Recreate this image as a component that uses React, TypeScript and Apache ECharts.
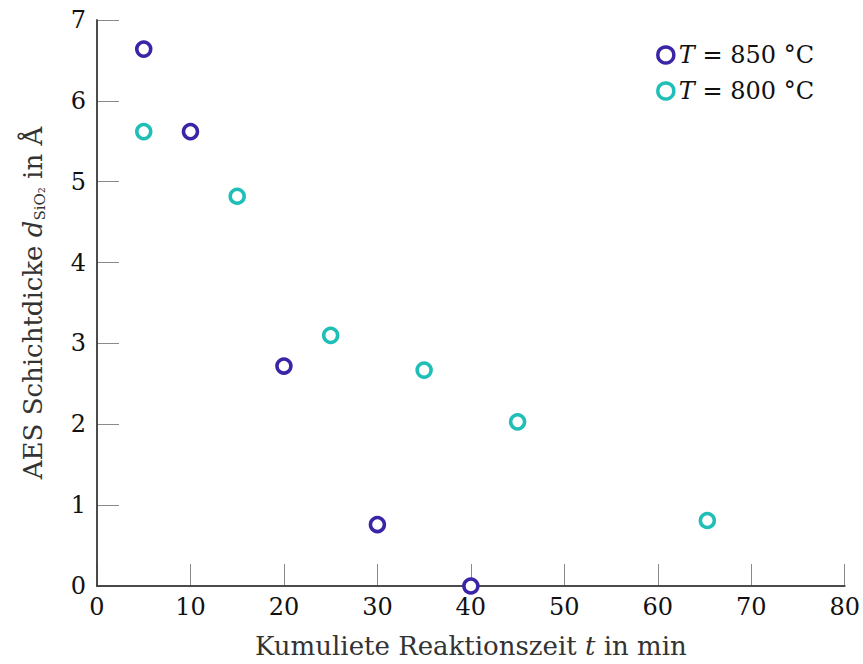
import React, { useEffect, useRef } from "react";
import * as echarts from "echarts";

const xTicks = [0, 10, 20, 30, 40, 50, 60, 70, 80];
const yTicks = [0, 1, 2, 3, 4, 5, 6, 7];

const t850 = [5, 10, 20, 30, 40];
const d850 = [6.64, 5.62, 2.72, 0.76, 0.0];

const t800 = [5, 15, 25, 35, 45, 65.3];
const d800 = [5.62, 4.82, 3.1, 2.67, 2.03, 0.81];

const seriesNames = ["T850", "T800"];
const colors = ["#3b24a6", "#1fbfb7"];

const FONT = "DejaVu Serif";
const TICK_LEN = 11;

const mkLine = () => ({ show: true, lineStyle: { color: "#404040", width: 1.5 } });
const mkTick = () => ({ show: true, inside: false, length: TICK_LEN, lineStyle: { color: "#8a8a8a", width: 1 } });

const xBase = { type: "value", min: 0, max: 80, interval: 10, splitLine: { show: false } };
const yBase = { type: "value", min: 0, max: 7, interval: 1, splitLine: { show: false } };

// tick-only axes, shifted into the plot so that their outward ticks point inward
const tickX = (position: string) => ({
  ...xBase,
  position,
  offset: -TICK_LEN,
  z: 0,
  axisLine: { show: false },
  axisTick: mkTick(),
  axisLabel: { show: false },
});
const tickY = (position: string) => ({
  ...yBase,
  position,
  offset: -TICK_LEN,
  z: 0,
  axisLine: { show: false },
  axisTick: mkTick(),
  axisLabel: { show: false },
});

export default function App() {
  const ref = useRef<HTMLDivElement>(null);
  useEffect(() => {
    if (!ref.current) return;
    const chart = echarts.init(ref.current, null, { renderer: "svg" });
    const legendRich = {
      i: { fontFamily: FONT, fontStyle: "italic", fontSize: 24, color: "#111" },
      n: { fontFamily: FONT, fontSize: 24, color: "#111" },
    };
    chart.setOption({
      animation: false,
      backgroundColor: "#ffffff",
      grid: { left: 97, top: 20, right: 17, bottom: 77, containLabel: false },
      legend: {
        show: true,
        top: 38,
        right: 44,
        orient: "vertical",
        itemGap: 12,
        itemWidth: 16,
        itemHeight: 16,
        icon: "circle",
        data: seriesNames.map((n, i) => ({
          name: n,
          itemStyle: { color: "#fff", borderColor: colors[i], borderWidth: 3.5, opacity: 1 },
        })),
        formatter: (name: string) =>
          name === "T850" ? "{i|T}{n|\u00a0= 850\u00a0°C}" : "{i|T}{n|\u00a0= 800\u00a0°C}",
        textStyle: { rich: legendRich },
      },
      xAxis: [
        {
          ...xBase,
          position: "bottom",
          z: 3,
          axisLine: mkLine(),
          axisTick: { show: false },
          axisLabel: {
            fontFamily: FONT,
            fontSize: 24,
            color: "#111",
            margin: 9,
            formatter: (v: number) => (xTicks.includes(v) ? String(v) : ""),
          },
          name: "Kumuliete Reaktionszeit {i|t} in min",
          nameLocation: "middle",
          nameGap: 47,
          nameTextStyle: {
            fontFamily: FONT,
            fontSize: 26,
            color: "#333",
            rich: { i: { fontFamily: FONT, fontStyle: "italic", fontSize: 26, color: "#333" } },
          },
        },
        {
          ...xBase,
          position: "top",
          z: 3,
          axisLine: mkLine(),
          axisTick: { show: false },
          axisLabel: { show: false },
        },
        tickX("bottom"),
        tickX("top"),
      ],
      yAxis: [
        {
          ...yBase,
          position: "left",
          z: 3,
          axisLine: mkLine(),
          axisTick: { show: false },
          axisLabel: {
            fontFamily: FONT,
            fontSize: 24,
            color: "#111",
            margin: 11,
            formatter: (v: number) => (yTicks.includes(v) ? String(v) : ""),
          },
          name: "AES Schichtdicke {i|d}{s|SiO₂} in Å",
          nameLocation: "middle",
          nameGap: 50,
          nameTextStyle: {
            fontFamily: FONT,
            fontSize: 26,
            color: "#333",
            rich: {
              i: { fontFamily: FONT, fontStyle: "italic", fontSize: 26, color: "#333" },
              s: { fontFamily: FONT, fontSize: 15, color: "#333", verticalAlign: "bottom", padding: [14, 0, 0, 0] },
            },
          },
        },
        {
          ...yBase,
          position: "right",
          z: 3,
          axisLine: mkLine(),
          axisTick: { show: false },
          axisLabel: { show: false },
        },
        tickY("left"),
        tickY("right"),
      ],
      series: [
        {
          name: seriesNames[0],
          type: "scatter",
          xAxisIndex: 0,
          yAxisIndex: 0,
          symbol: "circle",
          symbolSize: 14,
          itemStyle: { color: "#fff", borderColor: colors[0], borderWidth: 3.5, opacity: 1 },
          data: t850.map((t, i) => [t, d850[i]]),
          z: 5,
        },
        {
          name: seriesNames[1],
          type: "scatter",
          xAxisIndex: 0,
          yAxisIndex: 0,
          symbol: "circle",
          symbolSize: 14,
          itemStyle: { color: "#fff", borderColor: colors[1], borderWidth: 3.5, opacity: 1 },
          data: t800.map((t, i) => [t, d800[i]]),
          z: 5,
        },
      ],
    });
    return () => chart.dispose();
  }, []);
  return <div ref={ref} style={{ width: 863, height: 664, position: "absolute", left: 0, top: 0 }} />;
}
